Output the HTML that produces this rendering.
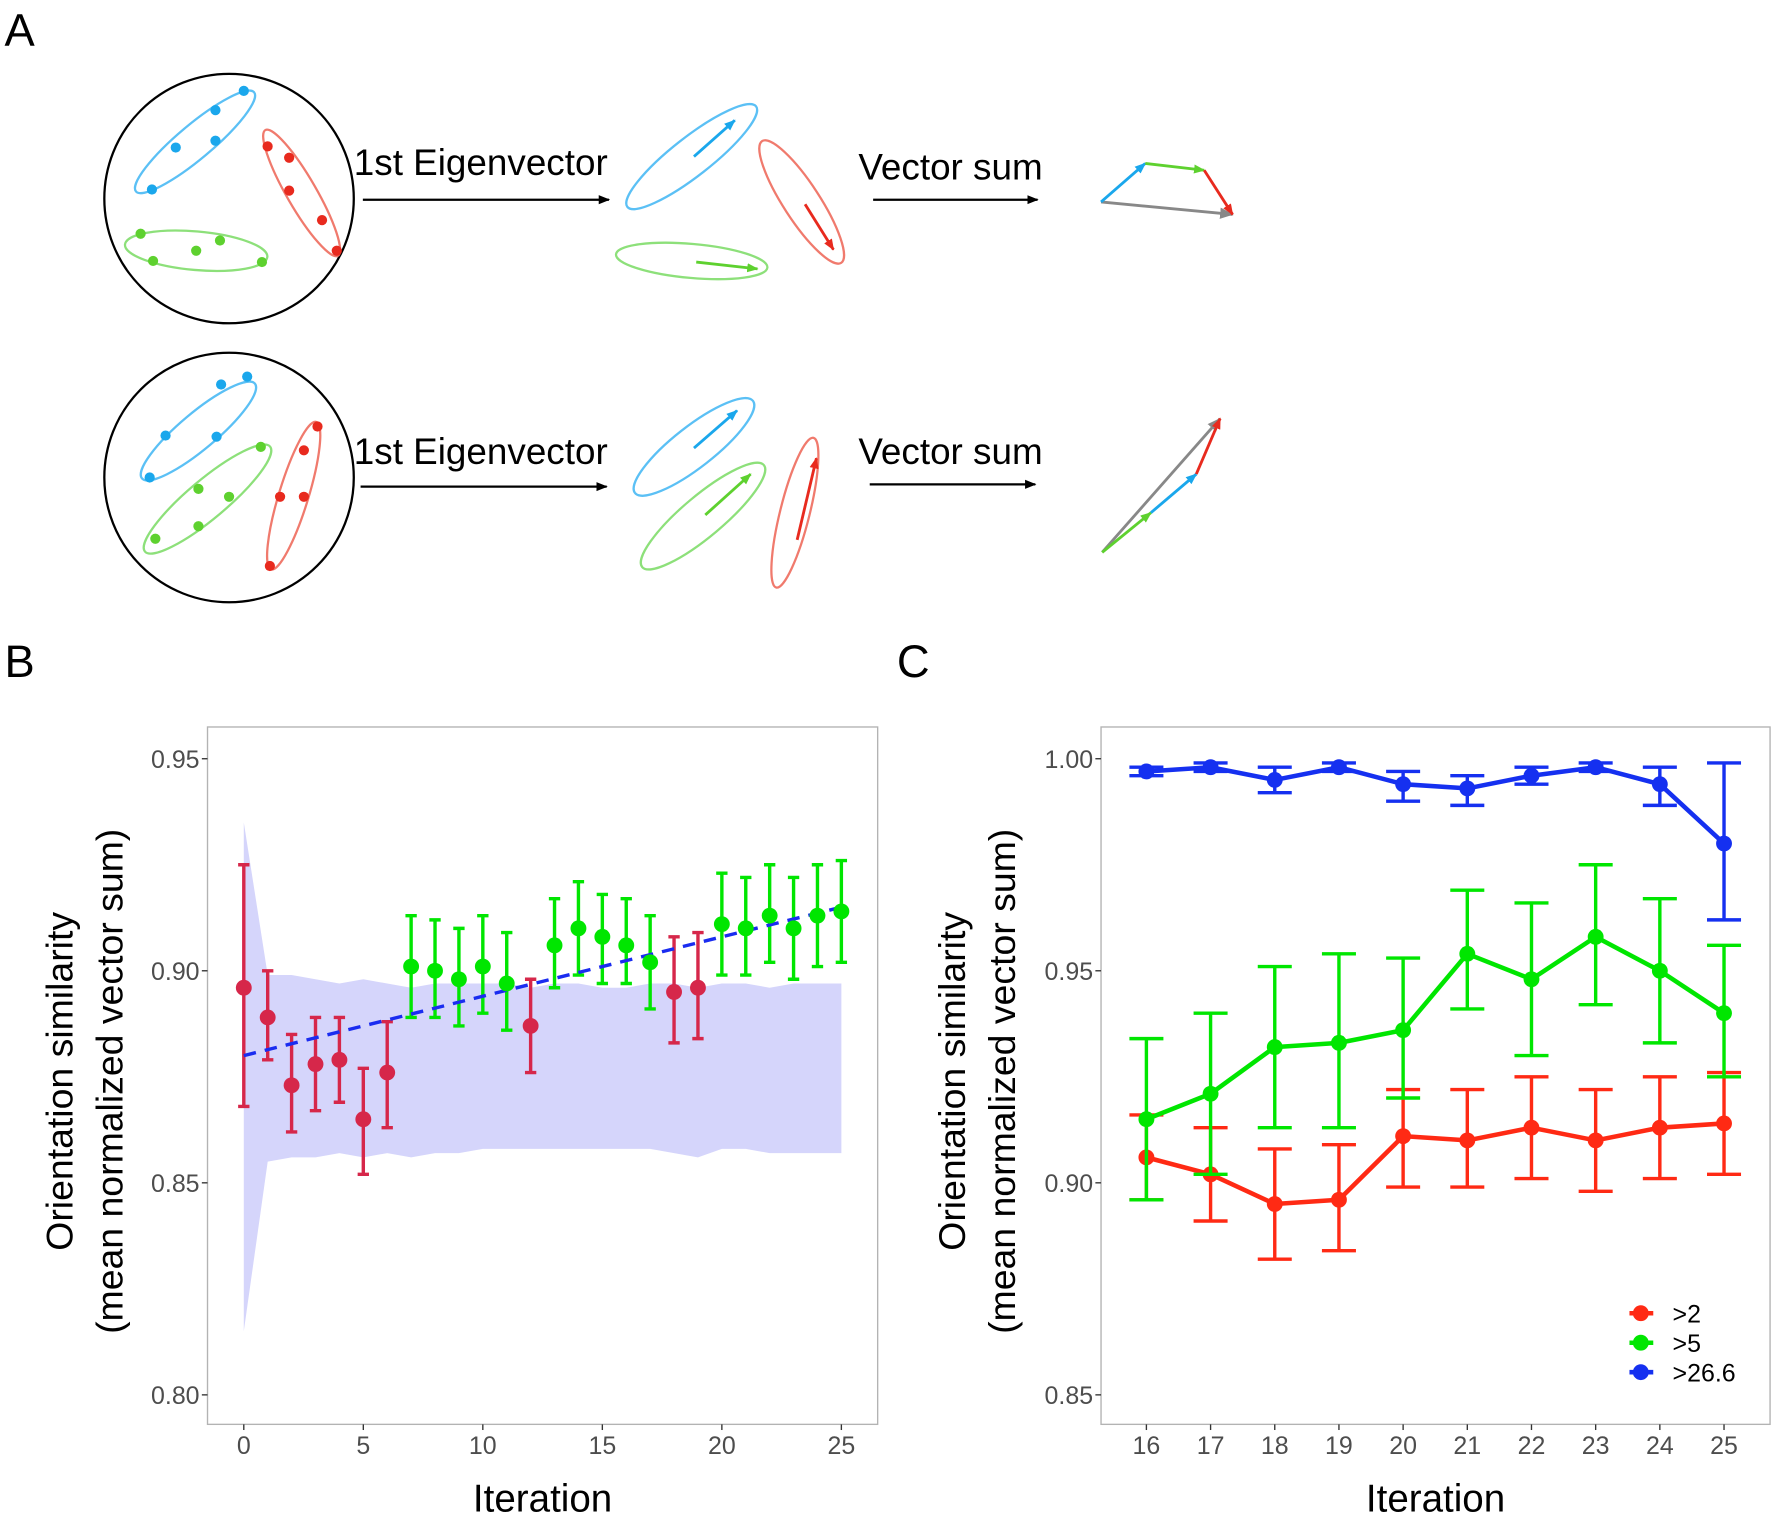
<!DOCTYPE html>
<html><head><meta charset="utf-8">
<style>
html,body{margin:0;padding:0;background:#fff;}
svg{display:block;font-family:"Liberation Sans",Arial,sans-serif;}
</style></head>
<body>
<svg id="fig" width="1778" height="1522" viewBox="0 0 1568 1342" xmlns="http://www.w3.org/2000/svg">
<defs>
<marker id="ak" markerWidth="10" markerHeight="10" refX="9" refY="5" orient="auto" markerUnits="userSpaceOnUse"><path d="M0,1 L10,5 L0,9 Z" fill="#000"/></marker>
<marker id="ab" markerWidth="10" markerHeight="10" refX="9" refY="5" orient="auto" markerUnits="userSpaceOnUse"><path d="M0,1 L10,5 L0,9 Z" fill="#1aa7ec"/></marker>
<marker id="ar" markerWidth="10" markerHeight="10" refX="9" refY="5" orient="auto" markerUnits="userSpaceOnUse"><path d="M0,1 L10,5 L0,9 Z" fill="#e82a1e"/></marker>
<marker id="ag" markerWidth="10" markerHeight="10" refX="9" refY="5" orient="auto" markerUnits="userSpaceOnUse"><path d="M0,1 L10,5 L0,9 Z" fill="#5ed12f"/></marker>
<marker id="ay" markerWidth="12" markerHeight="12" refX="11" refY="6" orient="auto" markerUnits="userSpaceOnUse"><path d="M0,1 L12,6 L0,11 Z" fill="#888"/></marker>
</defs>

<text x="4" y="40" font-size="40">A</text>
<text x="4" y="597" font-size="40">B</text>
<text x="791" y="597" font-size="40">C</text>

<!-- Panel A row 1 -->
<g stroke-width="2" fill="none">
<circle cx="202" cy="175" r="110" stroke="#000"/>
<ellipse cx="172" cy="125" rx="68" ry="15" transform="rotate(-40 172 125)" stroke="#5bc0f5"/>
<ellipse cx="266" cy="170" rx="64" ry="13" transform="rotate(60 266 170)" stroke="#f07a6d"/>
<ellipse cx="173" cy="221" rx="63" ry="17" transform="rotate(5 173 221)" stroke="#8de07a"/>
<g stroke="none" fill="#1aa7ec"><circle cx="215" cy="80" r="4.5"/><circle cx="190" cy="97" r="4.5"/><circle cx="190" cy="124" r="4.5"/><circle cx="155" cy="130" r="4.5"/><circle cx="134" cy="167" r="4.5"/></g>
<g stroke="none" fill="#e82a1e"><circle cx="236" cy="129" r="4.5"/><circle cx="255" cy="139" r="4.5"/><circle cx="255" cy="168" r="4.5"/><circle cx="284" cy="194" r="4.5"/><circle cx="297" cy="221" r="4.5"/></g>
<g stroke="none" fill="#5ed12f"><circle cx="124" cy="206" r="4.5"/><circle cx="194" cy="212" r="4.5"/><circle cx="173" cy="221" r="4.5"/><circle cx="135" cy="230" r="4.5"/><circle cx="231" cy="231" r="4.5"/></g>
<text x="312" y="154" font-size="32.5" fill="#000" stroke="none">1st Eigenvector</text>
<line x1="320" y1="176" x2="537" y2="176" stroke="#000" marker-end="url(#ak)"/>
<ellipse cx="610" cy="138" rx="72" ry="17" transform="rotate(-38 610 138)" stroke="#5bc0f5"/>
<line x1="612" y1="138" x2="648" y2="106" stroke="#1aa7ec" stroke-width="2.5" marker-end="url(#ab)"/>
<ellipse cx="707" cy="178" rx="64" ry="16" transform="rotate(57 707 178)" stroke="#f07a6d"/>
<line x1="710" y1="180" x2="735" y2="220" stroke="#e82a1e" stroke-width="2.5" marker-end="url(#ar)"/>
<ellipse cx="610" cy="230" rx="67" ry="15" transform="rotate(5 610 230)" stroke="#8de07a"/>
<line x1="614" y1="231" x2="668" y2="237" stroke="#5ed12f" stroke-width="2.5" marker-end="url(#ag)"/>
<text x="757" y="158" font-size="32.5" fill="#000" stroke="none">Vector sum</text>
<line x1="770" y1="176" x2="915" y2="176" stroke="#000" marker-end="url(#ak)"/>
<line x1="971" y1="178" x2="1087" y2="189" stroke="#888" stroke-width="2.5" marker-end="url(#ay)"/>
<line x1="971" y1="178" x2="1010" y2="144" stroke="#1aa7ec" stroke-width="2.5" marker-end="url(#ab)"/>
<line x1="1010" y1="144" x2="1062" y2="150" stroke="#5ed12f" stroke-width="2.5" marker-end="url(#ag)"/>
<line x1="1062" y1="150" x2="1087" y2="189" stroke="#e82a1e" stroke-width="2.5" marker-end="url(#ar)"/>
</g>

<!-- Panel A row 2 -->
<g stroke-width="2" fill="none">
<circle cx="202" cy="421" r="110" stroke="#000"/>
<ellipse cx="175" cy="380" rx="65" ry="16" transform="rotate(-40 175 380)" stroke="#5bc0f5"/>
<ellipse cx="183" cy="440" rx="72" ry="17" transform="rotate(-40 183 440)" stroke="#8de07a"/>
<ellipse cx="259" cy="437" rx="68" ry="13" transform="rotate(-73 259 437)" stroke="#f07a6d"/>
<g stroke="none" fill="#1aa7ec"><circle cx="218" cy="332" r="4.5"/><circle cx="195" cy="339" r="4.5"/><circle cx="146" cy="384" r="4.5"/><circle cx="191" cy="385" r="4.5"/><circle cx="132" cy="421" r="4.5"/></g>
<g stroke="none" fill="#5ed12f"><circle cx="230" cy="394" r="4.5"/><circle cx="175" cy="431" r="4.5"/><circle cx="202" cy="438" r="4.5"/><circle cx="175" cy="464" r="4.5"/><circle cx="137" cy="475" r="4.5"/></g>
<g stroke="none" fill="#e82a1e"><circle cx="280" cy="376" r="4.5"/><circle cx="268" cy="397" r="4.5"/><circle cx="247" cy="438" r="4.5"/><circle cx="268" cy="438" r="4.5"/><circle cx="238" cy="499" r="4.5"/></g>
<text x="312" y="409" font-size="32.5" fill="#000" stroke="none">1st Eigenvector</text>
<line x1="318" y1="429" x2="535" y2="429" stroke="#000" marker-end="url(#ak)"/>
<ellipse cx="612" cy="394" rx="66" ry="18" transform="rotate(-38 612 394)" stroke="#5bc0f5"/>
<line x1="612" y1="395" x2="650" y2="362" stroke="#1aa7ec" stroke-width="2.5" marker-end="url(#ab)"/>
<ellipse cx="620" cy="455" rx="70" ry="18" transform="rotate(-40 620 455)" stroke="#8de07a"/>
<line x1="622" y1="454" x2="662" y2="418" stroke="#5ed12f" stroke-width="2.5" marker-end="url(#ag)"/>
<ellipse cx="701" cy="452" rx="68" ry="13" transform="rotate(-76 701 452)" stroke="#f07a6d"/>
<line x1="703" y1="476" x2="720" y2="404" stroke="#e82a1e" stroke-width="2.5" marker-end="url(#ar)"/>
<text x="757" y="409" font-size="32.5" fill="#000" stroke="none">Vector sum</text>
<line x1="767" y1="427" x2="913" y2="427" stroke="#000" marker-end="url(#ak)"/>
<line x1="972" y1="487" x2="1076" y2="369" stroke="#888" stroke-width="2.5" marker-end="url(#ay)"/>
<line x1="972" y1="487" x2="1015" y2="452" stroke="#5ed12f" stroke-width="2.5" marker-end="url(#ag)"/>
<line x1="1015" y1="452" x2="1055" y2="418" stroke="#1aa7ec" stroke-width="2.5" marker-end="url(#ab)"/>
<line x1="1055" y1="418" x2="1076" y2="369" stroke="#e82a1e" stroke-width="2.5" marker-end="url(#ar)"/>
</g>

<g id="chartB"></g>
<g id="chartC"></g>
</svg>

<script>
// ---- Panel B data ----
const bIter = [0,1,2,3,4,5,6,7,8,9,10,11,12,13,14,15,16,17,18,19,20,21,22,23,24,25];
const bMean = [0.896,0.889,0.873,0.878,0.879,0.865,0.876,0.901,0.900,0.898,0.901,0.897,0.887,0.906,0.910,0.908,0.906,0.902,0.895,0.896,0.911,0.910,0.913,0.910,0.913,0.914];
const bLow  = [0.868,0.879,0.862,0.867,0.869,0.852,0.863,0.889,0.889,0.887,0.890,0.886,0.876,0.896,0.899,0.897,0.897,0.891,0.883,0.884,0.899,0.899,0.902,0.898,0.901,0.902];
const bHigh = [0.925,0.900,0.885,0.889,0.889,0.877,0.888,0.913,0.912,0.910,0.913,0.909,0.898,0.917,0.921,0.918,0.917,0.913,0.908,0.909,0.923,0.922,0.925,0.922,0.925,0.926];
const bSig  = [0,0,0,0,0,0,0,1,1,1,1,1,0,1,1,1,1,1,0,0,1,1,1,1,1,1];
const bBandHi = [0.935,0.899,0.899,0.898,0.897,0.898,0.897,0.896,0.897,0.897,0.897,0.897,0.896,0.897,0.897,0.896,0.896,0.897,0.897,0.896,0.897,0.897,0.896,0.897,0.897,0.897];
const bBandLo = [0.815,0.855,0.856,0.856,0.857,0.856,0.857,0.856,0.857,0.857,0.858,0.858,0.858,0.858,0.858,0.858,0.858,0.858,0.857,0.856,0.858,0.858,0.857,0.857,0.857,0.857];
const bTrend = [0.880, 0.915];
const bYTicks = [0.80,0.85,0.90,0.95];
const bXTicks = [0,5,10,15,20,25];

// ---- Panel C data ----
const cIter = [16,17,18,19,20,21,22,23,24,25];
const cRedMean = [0.906,0.902,0.895,0.896,0.911,0.910,0.913,0.910,0.913,0.914];
const cRedLow  = [0.896,0.891,0.882,0.884,0.899,0.899,0.901,0.898,0.901,0.902];
const cRedHigh = [0.916,0.913,0.908,0.909,0.922,0.922,0.925,0.922,0.925,0.926];
const cGreenMean = [0.915,0.921,0.932,0.933,0.936,0.954,0.948,0.958,0.950,0.940];
const cGreenLow  = [0.896,0.902,0.913,0.913,0.920,0.941,0.930,0.942,0.933,0.925];
const cGreenHigh = [0.934,0.940,0.951,0.954,0.953,0.969,0.966,0.975,0.967,0.956];
const cBlueMean = [0.997,0.998,0.995,0.998,0.994,0.993,0.996,0.998,0.994,0.980];
const cBlueLow  = [0.996,0.997,0.992,0.997,0.990,0.989,0.994,0.997,0.989,0.962];
const cBlueHigh = [0.998,0.999,0.998,0.999,0.997,0.996,0.998,0.999,0.998,0.999];
const cYTicks = [0.85,0.90,0.95,1.00];
const cXTicks = [16,17,18,19,20,21,22,23,24,25];
const cLegend = [">2",">5",">26.6"];

const NS = "http://www.w3.org/2000/svg";
function mk(parent, tag, attrs, text){
  const e = document.createElementNS(NS, tag);
  for (const k in attrs) e.setAttribute(k, attrs[k]);
  if (text !== undefined) e.textContent = text;
  parent.appendChild(e);
  return e;
}

function frame(g, box, yScale, xScale, yTicks, xTicks, yFmt, titleX){
  const r = mk(g,'rect',{x:box.l,y:box.t,width:box.r-box.l,height:box.b-box.t,fill:'none',stroke:'#b3b3b3','stroke-width':1.2});
  
  
  yTicks.forEach(v=>{
    const y = yScale(v);
    const t = mk(g,'line',{x1:box.l-5,x2:box.l,y1:y,y2:y,stroke:'#333','stroke-width':1.2});
    
    
    const lb = mk(g,'text',{x:box.l-7,y:y+8,'font-size':22,'text-anchor':'end',fill:'#4d4d4d'},yFmt(v));
    
    
  });
  xTicks.forEach(v=>{
    const x = xScale(v);
    const t = mk(g,'line',{x1:x,x2:x,y1:box.b,y2:box.b+5,stroke:'#333','stroke-width':1.2});
    
    
    const lb = mk(g,'text',{x:x,y:box.b+26,'font-size':22,'text-anchor':'middle',fill:'#4d4d4d'},String(v));
    
    
  });
  const xt = mk(g,'text',{x:(box.l+box.r)/2,y:1333,'font-size':34,'text-anchor':'middle',fill:'#000'},'Iteration');
  
  
  const cy = (box.t+box.b)/2 + 5;
  const y1 = mk(g,'text',{x:0,y:0,'font-size':33,'text-anchor':'middle',fill:'#000',transform:`translate(${titleX},${cy}) rotate(-90)`},'Orientation similarity');
  
  
  const y2 = mk(g,'text',{x:0,y:0,'font-size':33,'text-anchor':'middle',fill:'#000',transform:`translate(${titleX+44},${cy}) rotate(-90)`},'(mean normalized vector sum)');
  
  
}

// ---- Chart B ----
(function(){
  const g = document.getElementById('chartB');
  const box = {l:183,r:774,t:641,b:1256};
  const ys = v => 856 - (v-0.90)/0.05*187;
  const xs = v => 215 + v*21.08;
  let d = '';
  bIter.forEach((it,i)=>{ d += (i?'L':'M') + xs(it) + ',' + ys(bBandHi[i]) + ' '; });
  for (let i=bIter.length-1;i>=0;i--) d += 'L' + xs(bIter[i]) + ',' + ys(bBandLo[i]) + ' ';
  const band = mk(g,'path',{d:d+'Z',fill:'#d5d5fb',stroke:'none'});
  
  
  frame(g, box, ys, xs, bYTicks, bXTicks, v=>v.toFixed(2), 64);
  bIter.forEach((it,i)=>{
    const col = bSig[i] ? '#00e600' : '#d6274a';
    const x = xs(it);
    const e = mk(g,'path',{d:`M${x},${ys(bLow[i])}V${ys(bHigh[i])}M${x-5},${ys(bLow[i])}H${x+5}M${x-5},${ys(bHigh[i])}H${x+5}`,stroke:col,'stroke-width':3,fill:'none'});
    
    
  });
  const tr = mk(g,'line',{x1:xs(bIter[0]),y1:ys(bTrend[0]),x2:xs(bIter[bIter.length-1]),y2:ys(bTrend[1]),stroke:'#1a2cf0','stroke-width':3,'stroke-dasharray':'11,8'});
  
  
  bIter.forEach((it,i)=>{
    const col = bSig[i] ? '#00e600' : '#d6274a';
    const c = mk(g,'circle',{cx:xs(it),cy:ys(bMean[i]),r:7,fill:col});
    
    
  });
})();

// ---- Chart C ----
(function(){
  const g = document.getElementById('chartC');
  const box = {l:971,r:1561,t:641,b:1256};
  const ys = v => 856 - (v-0.95)/0.05*187;
  const xs = v => 1011 + (v-16)*56.6;
  frame(g, box, ys, xs, cYTicks, cXTicks, v=>v.toFixed(2), 851);
  const series = [
    {name:'red',col:'#ff2a14',m:cRedMean,lo:cRedLow,hi:cRedHigh},
    {name:'green',col:'#00e600',m:cGreenMean,lo:cGreenLow,hi:cGreenHigh},
    {name:'blue',col:'#1530f0',m:cBlueMean,lo:cBlueLow,hi:cBlueHigh}
  ];
  series.forEach(s=>{
    const sg = mk(g,'g',{});
    
    
    cIter.forEach((it,i)=>{
      const x = xs(it);
      const e = mk(sg,'path',{d:`M${x},${ys(s.lo[i])}V${ys(s.hi[i])}M${x-15},${ys(s.lo[i])}H${x+15}M${x-15},${ys(s.hi[i])}H${x+15}`,stroke:s.col,'stroke-width':3,fill:'none'});
      
      
    });
    const pts = cIter.map((it,i)=>xs(it)+','+ys(s.m[i])).join(' ');
    const l = mk(sg,'polyline',{points:pts,fill:'none',stroke:s.col,'stroke-width':4,'stroke-linejoin':'round'});
    
    
    cIter.forEach((it,i)=>{
      const c = mk(sg,'circle',{cx:xs(it),cy:ys(s.m[i]),r:7,fill:s.col});
      
      
    });
  });
  cLegend.forEach((lab,i)=>{
    const y = 1158 + i*26;
    const lg = mk(g,'g',{});
    
    
    mk(lg,'line',{x1:1437,x2:1458,y1:y,y2:y,stroke:series[i].col,'stroke-width':4});
    mk(lg,'circle',{cx:1447,cy:y,r:7,fill:series[i].col});
    mk(lg,'text',{x:1475,y:y+8,'font-size':22,fill:'#000'},lab);
  });
})();
</script>
</body></html>
